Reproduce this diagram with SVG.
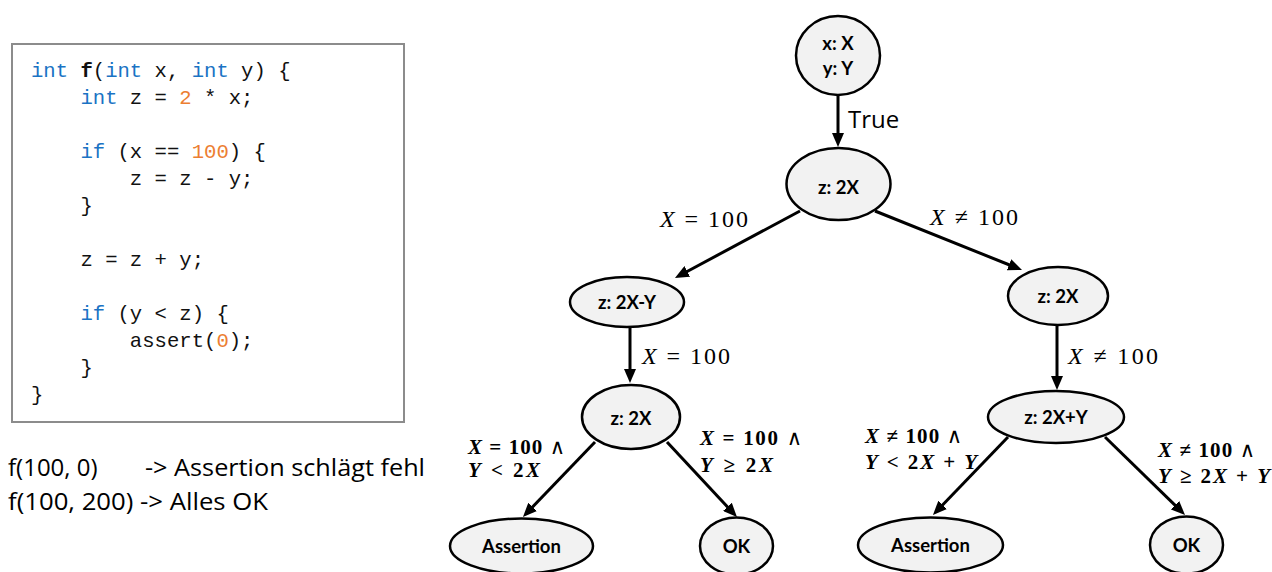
<svg xmlns="http://www.w3.org/2000/svg" width="1272" height="572" viewBox="0 0 1272 572">
<style>
.code{font-family:"Liberation Mono","DejaVu Sans Mono",monospace;font-size:20.6px;fill:#111}
.kw{fill:#1a73c4}
.num{fill:#ec7e32}
.plain{font-family:"Open Sans","Liberation Sans",sans-serif;font-size:24px;fill:#000}
.node{fill:#f2f2f2;stroke:#000;stroke-width:2.5}
.nt{font-family:Lato,"Open Sans",sans-serif;font-weight:bold;font-size:18.5px;fill:#000;text-anchor:middle}
.edge{stroke:#000;stroke-width:3;fill:none;marker-end:url(#arr)}
.m{font-family:"Liberation Serif","DejaVu Serif",serif;font-size:24px;fill:#000}
.mb{font-family:"Liberation Serif","DejaVu Serif",serif;font-size:21px;font-weight:bold;fill:#000}
.i{font-style:italic}
</style>
<defs>
<marker id="arr" viewBox="0 0 14 12" refX="6" refY="6" markerWidth="14" markerHeight="12" markerUnits="userSpaceOnUse" orient="auto">
<path d="M0,0 L14,6 L0,12 z" fill="#000"/>
</marker>
</defs>
<rect width="1272" height="572" fill="#fff"/>

<g id="code">
<rect x="12" y="44" width="392" height="378" fill="#fff" stroke="#8c8c8c" stroke-width="2"/>
<text class="code" xml:space="preserve"><tspan x="31" y="77"><tspan class="kw">int</tspan> <tspan font-weight="bold">f</tspan>(<tspan class="kw">int</tspan> x, <tspan class="kw">int</tspan> y) {</tspan><tspan x="31" y="104">    <tspan class="kw">int</tspan> z = <tspan class="num">2</tspan> * x;</tspan><tspan x="31" y="158">    <tspan class="kw">if</tspan> (x == <tspan class="num">100</tspan>) {</tspan><tspan x="31" y="185">        z = z - y;</tspan><tspan x="31" y="212">    }</tspan><tspan x="31" y="266">    z = z + y;</tspan><tspan x="31" y="320">    <tspan class="kw">if</tspan> (y &lt; z) {</tspan><tspan x="31" y="347">        assert(<tspan class="num">0</tspan>);</tspan><tspan x="31" y="374">    }</tspan><tspan x="31" y="401">}</tspan></text>
</g>

<g id="calls">
<text class="plain" x="8" y="476">f(100, 0)</text>
<text class="plain" x="145" y="476" textLength="280" lengthAdjust="spacingAndGlyphs">-&gt; Assertion schlägt fehl</text>
<text class="plain" x="8" y="510" textLength="260" lengthAdjust="spacingAndGlyphs">f(100, 200) -&gt; Alles OK</text>
</g>

<g id="connectors">
<line class="edge" x1="838" y1="95" x2="838" y2="139"/>
<line class="edge" x1="800" y1="211" x2="682" y2="274.2"/>
<line class="edge" x1="875" y1="211" x2="1014.6" y2="267"/>
<line class="edge" x1="630" y1="327" x2="630" y2="375"/>
<line class="edge" x1="1057" y1="325" x2="1057" y2="382"/>
<line class="edge" x1="595" y1="442" x2="528.5" y2="511.2"/>
<line class="edge" x1="667" y1="442" x2="731.5" y2="511.2"/>
<line class="edge" x1="1008" y1="437" x2="938.5" y2="509.2"/>
<line class="edge" x1="1105" y1="437" x2="1179.3" y2="509.4"/>
<text class="plain" x="848" y="128" font-size="22">True</text>
<text class="m" x="660" y="227" textLength="88" lengthAdjust="spacing"><tspan class="i">X</tspan> = 100</text>
<text class="m" x="930" y="225" textLength="88" lengthAdjust="spacing"><tspan class="i">X</tspan> ≠ 100</text>
<text class="m" x="642" y="364" textLength="88" lengthAdjust="spacing"><tspan class="i">X</tspan> = 100</text>
<text class="m" x="1068" y="364" textLength="90" lengthAdjust="spacing"><tspan class="i">X</tspan> ≠ 100</text>
<text class="mb" x="468" y="454" textLength="97" lengthAdjust="spacing"><tspan class="i">X</tspan> = 100 <tspan font-weight="normal">∧</tspan></text>
<text class="mb" x="468" y="477" textLength="72" lengthAdjust="spacing"><tspan class="i">Y</tspan> &lt; 2<tspan class="i">X</tspan></text>
<text class="mb" x="700" y="445" textLength="102" lengthAdjust="spacing"><tspan class="i">X</tspan> = 100  <tspan font-weight="normal">∧</tspan></text>
<text class="mb" x="700" y="472" textLength="73" lengthAdjust="spacing"><tspan class="i">Y</tspan> ≥ 2<tspan class="i">X</tspan></text>
<text class="mb" x="865" y="443" textLength="97" lengthAdjust="spacing"><tspan class="i">X</tspan> ≠ 100 <tspan font-weight="normal">∧</tspan></text>
<text class="mb" x="865" y="469" textLength="112" lengthAdjust="spacing"><tspan class="i">Y</tspan> &lt; 2<tspan class="i">X</tspan> + <tspan class="i">Y</tspan></text>
<text class="mb" x="1158" y="457" textLength="97" lengthAdjust="spacing"><tspan class="i">X</tspan> ≠ 100 <tspan font-weight="normal">∧</tspan></text>
<text class="mb" x="1158" y="483" textLength="112" lengthAdjust="spacing"><tspan class="i">Y</tspan> ≥ 2<tspan class="i">X</tspan> + <tspan class="i">Y</tspan></text>
</g>

<g id="n-root">
<ellipse class="node" cx="838" cy="55.5" rx="42" ry="39.5"/>
<text class="nt" x="838" y="49.5">x: X</text>
<text class="nt" x="838" y="74.5">y: Y</text>
</g>
<g id="n-z2x">
<ellipse class="node" cx="838.5" cy="184" rx="52" ry="36"/>
<text class="nt" x="838.5" y="193.5">z: 2X</text>
</g>
<g id="n-z2xmy">
<ellipse class="node" cx="627" cy="302" rx="57" ry="25"/>
<text class="nt" x="627" y="308.5">z: 2X-Y</text>
</g>
<g id="n-z2x-right">
<ellipse class="node" cx="1058" cy="296" rx="50" ry="29"/>
<text class="nt" x="1058" y="303">z: 2X</text>
</g>
<g id="n-z2x-left">
<ellipse class="node" cx="631" cy="417" rx="49" ry="32"/>
<text class="nt" x="631" y="424.5">z: 2X</text>
</g>
<g id="n-z2xpy">
<ellipse class="node" cx="1056" cy="417" rx="68" ry="26"/>
<text class="nt" x="1056" y="423.5">z: 2X+Y</text>
</g>
<g id="n-assert-left">
<ellipse class="node" cx="521.5" cy="546" rx="71.5" ry="27.5"/>
<text class="nt" x="521.5" y="553">Assertion</text>
</g>
<g id="n-ok-left">
<ellipse class="node" cx="736.5" cy="546" rx="36.5" ry="28.5"/>
<text class="nt" x="736.5" y="553">OK</text>
</g>
<g id="n-assert-right">
<ellipse class="node" cx="930.5" cy="545" rx="72.5" ry="27.5"/>
<text class="nt" x="930.5" y="552">Assertion</text>
</g>
<g id="n-ok-right">
<ellipse class="node" cx="1186.5" cy="545" rx="36.5" ry="28.5"/>
<text class="nt" x="1186.5" y="552">OK</text>
</g>
</svg>
